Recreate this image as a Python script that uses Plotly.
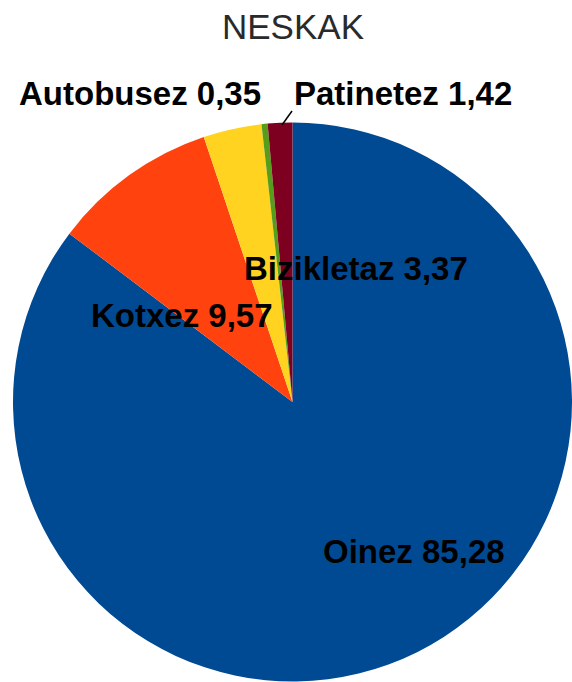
import plotly.graph_objects as go

categories = ["Oinez", "Kotxez", "Bizikletaz", "Autobusez", "Patinetez"]
values = [85.28, 9.57, 3.37, 0.35, 1.42]
value_labels = ["85,28", "9,57", "3,37", "0,35", "1,42"]
colors = ["#004a93", "#ff420e", "#ffd320", "#579d1c", "#7e0021"]
title_text = "NESKAK"

W, H = 572, 682
# label centres in pixels (layout only)
label_pos = {
    "Oinez": (414, 551),
    "Kotxez": (182, 315),
    "Bizikletaz": (356, 268),
    "Autobusez": (140, 93),
    "Patinetez": (403, 93),
}

fig = go.Figure(go.Pie(
    labels=categories,
    values=values,
    marker=dict(colors=colors, line=dict(width=0)),
    sort=False,
    direction="clockwise",
    rotation=0,
    textinfo="none",
    hoverinfo="label+value",
    showlegend=False,
    domain=dict(x=[13 / W, 1.0], y=[0, 1 - 122 / H]),
))

annotations = []
for cat, vl in zip(categories, value_labels):
    px, py = label_pos[cat]
    annotations.append(dict(
        x=px / W, y=1 - py / H, xref="paper", yref="paper",
        text=f"<b>{cat} {vl}</b>", showarrow=False,
        xanchor="center", yanchor="middle",
        font=dict(family="Liberation Sans, Arial, sans-serif", size=33, color="#000000"),
    ))
annotations.append(dict(
    x=293 / W, y=1 - 27 / H, xref="paper", yref="paper",
    text=title_text, showarrow=False, xanchor="center", yanchor="middle",
    font=dict(family="Liberation Sans, Arial, sans-serif", size=35, color="#2a2a2a"),
))

fig.update_layout(
    width=W, height=H,
    margin=dict(l=0, r=0, t=0, b=0),
    paper_bgcolor="white",
    plot_bgcolor="white",
    annotations=annotations,
    shapes=[dict(type="line", xref="paper", yref="paper",
                 x0=282 / W, y0=1 - 125 / H, x1=292 / W, y1=1 - 111 / H,
                 line=dict(color="#000000", width=1.5))],
)

fig.write_html("out.html",
               config={"displayModeBar": False},
               post_script="document.body.style.margin='0';document.body.style.overflow='hidden';")
